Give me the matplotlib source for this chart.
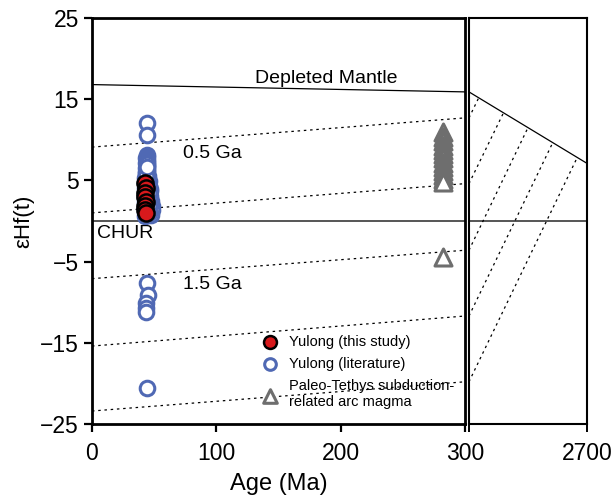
import matplotlib
matplotlib.use("Agg")
import matplotlib.pyplot as plt

plt.rcParams['font.family'] = ['Liberation Sans', 'DejaVu Sans']
plt.rcParams['axes.unicode_minus'] = True

# depleted mantle and CHUR reference
dm_age = [0, 300, 2700]
dm_eps = [16.8, 15.9, 7.1]

# crustal evolution lines (model ages, Ma); eps at 0 Ma and 300 Ma
model_age = [500, 1000, 1500, 2000, 2500]
model_eps0 = [9.1, 1.0, -7.1, -15.4, -23.4]
model_eps300 = [12.7, 4.6, -3.6, -11.7, -19.8]
model_dm = [15.2, 13.3, 11.5, 9.6, 7.8]

# Yulong (this study)
this_age = [43, 43.5, 42.5, 43, 43.5, 42.5, 43, 43.5]
this_eps = [4.7, 4.1, 3.5, 2.9, 2.4, 1.9, 1.4, 1.0]

# Yulong (literature)
lit_age = [44, 44,
           44, 44.5, 43.5, 44, 44.5, 43.5, 44, 44.5, 43.5, 44, 44.5, 43.5, 44, 45, 43,
           44, 45.5, 43, 44.5, 46, 42.5, 44, 46.5, 42.5, 45, 47, 42.5, 44, 47.5, 43,
           45, 48, 42.5, 44, 48, 43, 45.5, 47.5, 42.5, 44, 47, 43, 45, 46, 43.5, 44.5,
           45.5, 44, 43, 44.5, 46, 45, 43.5, 44, 45.5,
           44.5, 45, 43.5, 43.5, 43.5, 44]
lit_eps = [12.1, 10.6,
           8.1, 7.9, 7.7, 7.5, 7.3, 7.1, 6.9, 6.7, 6.5, 6.3, 6.1, 5.9, 5.7, 5.5, 5.3,
           5.1, 4.9, 4.7, 4.5, 4.3, 4.1, 3.9, 3.7, 3.5, 3.3, 3.1, 2.9, 2.7, 2.5, 2.3,
           2.1, 1.9, 1.7, 1.5, 1.3, 1.1, 0.9, 0.7, 0.6, 5.0, 4.0, 3.0, 2.0, 1.0, 6.0, 7.0,
           3.6, 2.6, 1.6, 4.6, 3.4, 2.4, 5.6, 6.6, 1.8,
           -7.6, -9.1, -10.1, -10.7, -11.2, -20.6]

# Paleo-Tethys subduction-related arc magma
pt_age = [282, 282, 282, 282, 282, 282, 282, 282, 282, 282, 282, 282, 282, 282]
pt_eps = [11.0, 10.4, 9.8, 9.2, 8.7, 8.2, 7.7, 7.2, 6.7, 6.2, 5.7, 5.2, 4.8, -4.4]

fig = plt.figure(figsize=(6.14, 5.04), dpi=100)
ax = fig.add_axes([0.1498, 0.1587, 0.6075, 0.8056])
ax2 = fig.add_axes([0.7638, 0.1587, 0.1922, 0.8056])

# left panel
ax.plot(dm_age[:2], dm_eps[:2], color='black', lw=0.9)
ax.axhline(0, color='#555555', lw=1.4)
for e0, e3 in zip(model_eps0, model_eps300):
    ax.plot([0, 300], [e0, e3], color='black', lw=0.9, ls=(0, (2, 3)))

ax.scatter(lit_age, lit_eps, s=110, facecolor='white', edgecolor='#5069b4', lw=2.2,
           label='Yulong (literature)', zorder=3)
ax.scatter(this_age, this_eps, s=135, facecolor='#d7191c', edgecolor='black', lw=1.8,
           label='Yulong (this study)', zorder=4)
ax.scatter(pt_age, pt_eps, s=150, marker='^', facecolor='white', edgecolor='#6e6e6e', lw=2.2,
           label='Paleo-Tethys subduction-\nrelated arc magma', zorder=3)

ax.text(131, 17.6, 'Depleted Mantle', fontsize=14, va='center', ha='left')
ax.text(73, 8.3, '0.5 Ga', fontsize=14, va='center')
ax.text(73, -7.8, '1.5 Ga', fontsize=14, va='center')
ax.text(4, -1.6, 'CHUR', fontsize=14, va='center')

ax.set_xlim(0, 300)
ax.set_ylim(-25, 25)
ax.set_xticks([0, 100, 200, 300])
ax.set_yticks([25, 15, 5, -5, -15, -25])
ax.tick_params(direction='out', length=6, width=1.6, labelsize=16.5)
ax.tick_params(axis='x', pad=7)
for sp in ax.spines.values():
    sp.set_linewidth(2.0)
ax.set_xlabel('Age (Ma)', fontsize=17, labelpad=6)
ax.set_ylabel('εHf(t)', fontsize=16, labelpad=4)

handles, labels = ax.get_legend_handles_labels()
order = [1, 0, 2]
ax.legend([handles[i] for i in order], [labels[i] for i in order], loc='upper left',
          bbox_to_anchor=(0.41, 0.245), frameon=False, fontsize=10.5, handletextpad=0.3,
          labelspacing=0.55, markerscale=0.8, borderpad=0.2)

# right panel
ax2.plot(dm_age[1:], dm_eps[1:], color='black', lw=0.9)
ax2.axhline(0, color='#555555', lw=1.4)
for t, e3, ed in zip(model_age, model_eps300, model_dm):
    ax2.plot([300, t], [e3, ed], color='black', lw=0.9, ls=(0, (2, 3)))
ax2.set_xlim(300, 2700)
ax2.set_ylim(-25, 25)
ax2.set_xticks([300, 2700])
ax2.set_xticklabels(['', '2700'])
ax2.set_yticks([])
ax2.tick_params(direction='out', length=6, width=1.4, labelsize=16.5, pad=7)
for sp in ax2.spines.values():
    sp.set_linewidth(1.5)

fig.savefig('out.png', dpi=100)
